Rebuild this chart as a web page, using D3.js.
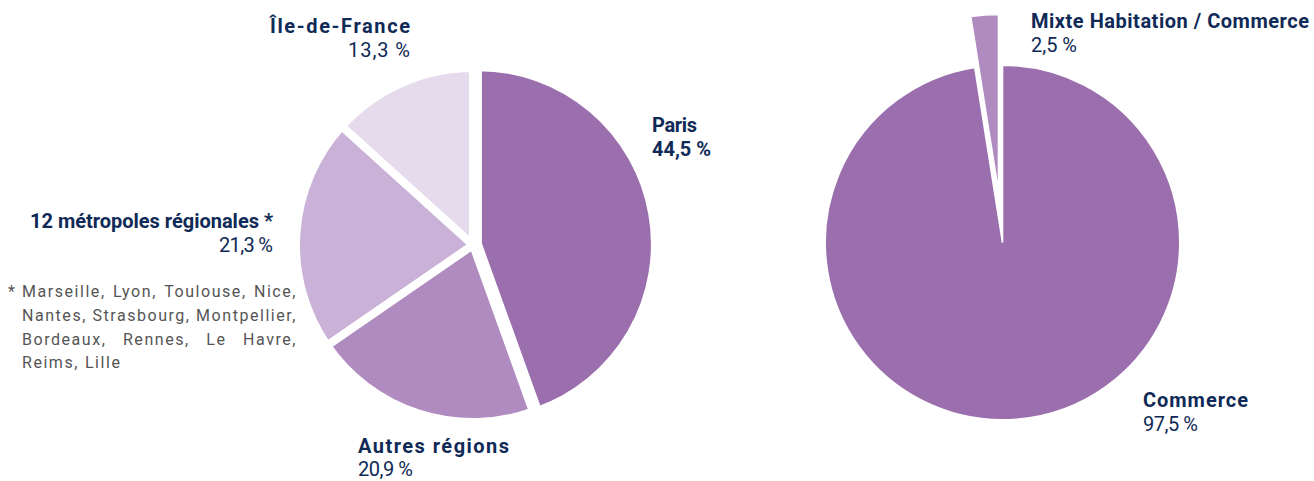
<!DOCTYPE html>
<html>
<head>
<meta charset="utf-8">
<script src="https://cdn.jsdelivr.net/npm/d3@7"></script>
<style>
  html, body { margin: 0; padding: 0; background: #fff; }
  svg { display: block; }
  text { font-family: Roboto, "Noto Sans", sans-serif; }
</style>
</head>
<body>
<svg id="chart" width="1314" height="481"></svg>
<script>
// ---- Data ----
const leftCategories = ["Paris", "Autres régions", "12 métropoles régionales *", "Île-de-France"];
const leftValues = [44.5, 20.9, 21.3, 13.3];
const leftValueLabels = ["44,5 %", "20,9 %", "21,3 %", "13,3 %"];
const leftColors = ["#9b6eae", "#b08bc0", "#c9b1d7", "#e6dbed"];

const rightCategories = ["Commerce", "Mixte Habitation / Commerce"];
const rightValues = [97.5, 2.5];
const rightValueLabels = ["97,5 %", "2,5 %"];
const rightColors = ["#9b6eae", "#b08bc0"];

const footnoteLines = [
  "Marseille, Lyon, Toulouse, Nice,",
  "Nantes, Strasbourg, Montpellier,",
  "Bordeaux, Rennes, Le Havre,",
  "Reims, Lille"
];

// ---- Layout ----
const svg = d3.select("#chart");
const navy = "#0f2a56";
const grey = "#555555";

const pie = d3.pie().sort(null).value(d => d);

function drawPie(values, colors, cx, cy, r, explode, strokeW) {
  const arcs = pie(values);
  const arc = d3.arc().innerRadius(0).outerRadius(r);
  const g = svg.append("g").attr("transform", `translate(${cx},${cy})`);
  const shift = (d, i) => {
    const a = (d.startAngle + d.endAngle) / 2;
    const e = explode[i];
    return `translate(${Math.sin(a) * e},${-Math.cos(a) * e})`;
  };
  g.append("g").selectAll("path").data(arcs).join("path")
    .attr("d", arc).attr("fill", (d, i) => colors[i]).attr("transform", shift);
  g.append("g").selectAll("path").data(arcs).join("path")
    .attr("d", arc).attr("fill", "none").attr("stroke", "#fff")
    .attr("stroke-width", strokeW).attr("stroke-linejoin", "miter").attr("transform", shift);
  return g;
}

drawPie(leftValues, leftColors, 473, 245, 177, [5, 0, 0, 0], 8);
drawPie(rightValues, rightColors, 1002.5, 242.5, 177.3, [0, 51], 1.6);

// ---- Labels ----
function label(x, y, anchor, name, value, boldValue, wName, wValue, gap) {
  const g = svg.append("g");
  g.append("text").attr("x", x).attr("y", y).attr("text-anchor", anchor)
    .attr("font-size", 20).attr("font-weight", 700)
    .attr("textLength", wName).attr("lengthAdjust", "spacing")
    .attr("fill", navy).text(name);
  g.append("text").attr("x", x).attr("y", y + gap).attr("text-anchor", anchor)
    .attr("font-size", 20).attr("font-weight", boldValue ? 700 : 400)
    .attr("textLength", wValue).attr("lengthAdjust", "spacing")
    .attr("fill", navy).text(value);
}

label(410, 33, "end", leftCategories[3], leftValueLabels[3], false, 140, 62, 24);
label(652, 132, "start", leftCategories[0], leftValueLabels[0], true, 45, 59, 24);
label(273, 228, "end", leftCategories[2], leftValueLabels[2], false, 243, 54, 24);
label(358, 453, "start", leftCategories[1], leftValueLabels[1], false, 151, 55, 23);
label(1031, 28, "start", rightCategories[1], rightValueLabels[1], false, 278, 46, 24);
label(1143, 407, "start", rightCategories[0], rightValueLabels[0], false, 105, 55, 24);

// ---- Footnote (justified) ----
const fx0 = 22, fx1 = 297, fy0 = 297, fdy = 23.8, fSize = 16;
svg.append("text").attr("x", 8).attr("y", fy0).attr("font-size", fSize)
  .attr("fill", grey).text("*");
// letter spacing chosen so that line 2 fits the column with normal spaces
const probe = svg.append("text").attr("font-size", fSize).text(footnoteLines[1]);
const natural = probe.node().getComputedTextLength();
probe.remove();
const ls = (fx1 - fx0 - natural) / footnoteLines[1].length;
footnoteLines.forEach((line, li) => {
  const words = line.split(" ");
  const y = fy0 + li * fdy;
  const justify = li < footnoteLines.length - 1;
  const tmp = words.map(w => svg.append("text").attr("font-size", fSize).attr("fill", grey)
    .attr("letter-spacing", ls).attr("y", y).text(w));
  const widths = tmp.map(t => t.node().getComputedTextLength());
  const total = d3.sum(widths);
  const gap = justify ? (fx1 - fx0 - total) / (words.length - 1) : 6;
  let x = fx0;
  tmp.forEach((t, i) => { t.attr("x", x); x += widths[i] + gap; });
});
</script>
</body>
</html>
